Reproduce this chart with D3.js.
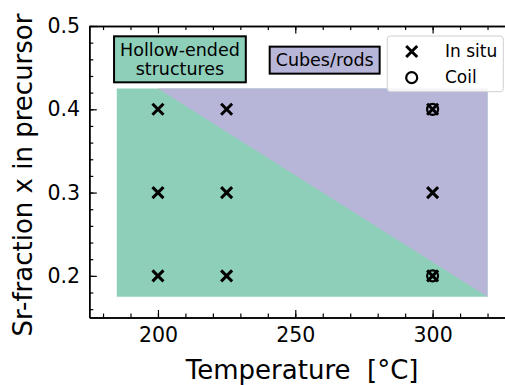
<!DOCTYPE html>
<html>
<head>
<meta charset="utf-8">
<script src="https://cdn.jsdelivr.net/npm/d3@7"></script>
<style>
  body { margin: 0; background: #fff; }
  text { font-family: "DejaVu Sans", sans-serif; }
</style>
</head>
<body>
<svg id="chart"></svg>
<script>
// data
var temps = [200, 225, 300];
var fractions = [0.2, 0.3, 0.4];
var inSitu = [
  [200, 0.2], [200, 0.3], [200, 0.4],
  [225, 0.2], [225, 0.3], [225, 0.4],
  [300, 0.2], [300, 0.3], [300, 0.4]
];
var coil = [[300, 0.2], [300, 0.4]];
var hollowRegion = [[185, 0.175], [185, 0.425], [320, 0.425], [320, 0.175]];
var cubesRegion = [[200, 0.425], [320, 0.425], [320, 0.175]];
var xTicks = [200, 250, 300];
var yTicks = [0.2, 0.3, 0.4, 0.5];

var w = 505, h = 385;
var teal = "#8ecfba", purple = "#b8b6d8";

var svg = d3.select("#chart").attr("width", w).attr("height", h);

var x = d3.scaleLinear().domain([175, 330]).range([89.3, 515]);
var y = d3.scaleLinear().domain([0.15, 0.5]).range([317.5, 26]);

var line = d3.line().x(function(d) { return x(d[0]); }).y(function(d) { return y(d[1]); });

svg.append("path").attr("d", line(hollowRegion) + "Z").attr("fill", teal);
svg.append("path").attr("d", line(cubesRegion) + "Z").attr("fill", purple);

// markers
function cross(g, cx, cy, s, sw) {
  g.append("path")
    .attr("d", "M" + (cx - s) + "," + (cy - s) + "L" + (cx + s) + "," + (cy + s) +
               "M" + (cx - s) + "," + (cy + s) + "L" + (cx + s) + "," + (cy - s))
    .attr("stroke", "black").attr("stroke-width", sw).attr("fill", "none");
}
var marks = svg.append("g");
coil.forEach(function(d) {
  marks.append("circle").attr("cx", x(d[0])).attr("cy", y(d[1])).attr("r", 5.5)
    .attr("fill", "none").attr("stroke", "black").attr("stroke-width", 2.2);
});
inSitu.forEach(function(d) { cross(marks, x(d[0]), y(d[1]), 5.5, 3); });

// labelled boxes
function labelBox(lines, tx, ty, fill) {
  var g = svg.append("g");
  var rect = g.append("rect");
  var t = g.append("text").attr("text-anchor", "middle").attr("font-size", 17.5);
  lines.forEach(function(s, i) {
    t.append("tspan").attr("x", x(tx)).attr("y", y(ty) + 6 + (i - (lines.length - 1) / 2) * 19).text(s);
  });
  var b = t.node().getBBox();
  rect.attr("x", b.x - 6).attr("y", b.y - 3.5).attr("width", b.width + 12).attr("height", b.height + 7)
    .attr("fill", fill).attr("stroke", "black").attr("stroke-width", 2);
}
labelBox(["Hollow-ended", "structures"], 208, 0.46, teal);
labelBox(["Cubes/rods"], 260.7, 0.459, purple);

// legend
var leg = svg.append("g");
leg.append("rect").attr("x", 387.3).attr("y", 36).attr("width", 116).attr("height", 55.7)
  .attr("rx", 3).attr("fill", "white").attr("fill-opacity", 0.85).attr("stroke", "#d0d0d0");
cross(leg, 411.7, 51.5, 5.5, 3);
leg.append("circle").attr("cx", 411.7).attr("cy", 77.7).attr("r", 5.5)
  .attr("fill", "none").attr("stroke", "black").attr("stroke-width", 2.2);
leg.append("text").attr("x", 445).attr("y", 57).attr("font-size", 17).text("In situ");
leg.append("text").attr("x", 445).attr("y", 83).attr("font-size", 17).text("Coil");

// axes
function styleAxis(g) {
  g.selectAll("path").attr("stroke", "black").attr("stroke-width", 1.5);
  g.selectAll("line").attr("stroke", "black").attr("stroke-width", 1.2);
  g.selectAll("text").attr("font-family", "DejaVu Sans").attr("font-size", 20.5).attr("fill", "black");
}
var xMinor = d3.range(180, 331, 10);
var yMinor = d3.range(0.16, 0.501, 0.02);

svg.append("g").attr("transform", "translate(0," + y(0.15) + ")")
  .call(d3.axisBottom(x).tickValues(xMinor).tickSize(-4).tickSizeOuter(0).tickFormat(""))
  .call(styleAxis);
svg.append("g").attr("transform", "translate(0," + y(0.15) + ")")
  .call(d3.axisBottom(x).tickValues(xTicks).tickSize(-7.5).tickSizeOuter(0).tickPadding(9.6).tickFormat(d3.format("d")))
  .call(styleAxis);
svg.append("g").attr("transform", "translate(0," + y(0.5) + ")")
  .call(d3.axisTop(x).tickValues(xMinor).tickSize(-4).tickSizeOuter(0).tickFormat(""))
  .call(styleAxis);
svg.append("g").attr("transform", "translate(0," + y(0.5) + ")")
  .call(d3.axisTop(x).tickValues(xTicks).tickSize(-7.5).tickSizeOuter(0).tickFormat(""))
  .call(styleAxis);
svg.append("g").attr("transform", "translate(" + x(175) + ",0)")
  .call(d3.axisLeft(y).tickValues(yMinor).tickSize(-4).tickSizeOuter(0).tickFormat(""))
  .call(styleAxis);
svg.append("g").attr("transform", "translate(" + x(175) + ",0)")
  .call(d3.axisLeft(y).tickValues(yTicks).tickSize(-7.5).tickSizeOuter(0).tickPadding(9.3).tickFormat(d3.format(".1f")))
  .call(styleAxis);

// axis titles
svg.append("text").attr("x", x(252.5)).attr("y", 379).attr("text-anchor", "middle")
  .attr("font-size", 26).style("white-space", "pre").text("Temperature  [°C]");
svg.append("text").attr("transform", "translate(31.5," + 175 + ") rotate(-90)")
  .attr("text-anchor", "middle").attr("font-size", 26).text("Sr-fraction x in precursor");
</script>
</body>
</html>
